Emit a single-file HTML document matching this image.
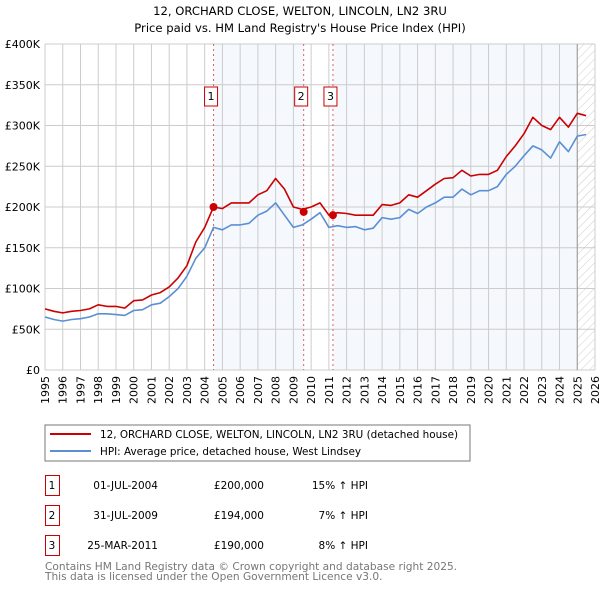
<!DOCTYPE html>
<html><head><meta charset="utf-8">
<style>
body{margin:0;background:#fff;font-family:"DejaVu Sans","Liberation Sans",sans-serif;}
#wrap{position:relative;width:600px;height:590px;overflow:hidden;}
svg text{font-family:"DejaVu Sans","Liberation Sans",sans-serif;}
</style></head><body>
<div id="wrap">
<svg id="chart" width="600" height="590">
<defs>
<pattern id="hatch" width="6" height="6" patternUnits="userSpaceOnUse" patternTransform="rotate(45)">
<line x1="0" y1="0" x2="0" y2="6" stroke="#ccc" stroke-width="1"/>
</pattern>
</defs>
<text x="300" y="15" text-anchor="middle" font-size="11.6">12, ORCHARD CLOSE, WELTON, LINCOLN, LN2 3RU</text>
<text x="300" y="32" text-anchor="middle" font-size="11.6">Price paid vs. HM Land Registry's House Price Index (HPI)</text>
<g id="plot"></g>
<rect x="45" y="425" width="425" height="36" fill="none" stroke="#777"/>
<line x1="50" y1="434" x2="91" y2="434" stroke="#cc0000" stroke-width="2"/>
<text x="100" y="438" font-size="10.4">12, ORCHARD CLOSE, WELTON, LINCOLN, LN2 3RU (detached house)</text>
<line x1="50" y1="451" x2="91" y2="451" stroke="#5b8fd4" stroke-width="2"/>
<text x="100" y="455" font-size="10.4">HPI: Average price, detached house, West Lindsey</text>
<g id="table" font-size="10.5"></g>
<text x="45" y="570" font-size="10.6" fill="#777">Contains HM Land Registry data © Crown copyright and database right 2025.</text>
<text x="45" y="580" font-size="10.6" fill="#777">This data is licensed under the Open Government Licence v3.0.</text>
</svg>
</div>
<script>
const years = [1995,1996,1997,1998,1999,2000,2001,2002,2003,2004,2005,2006,2007,2008,2009,2010,2011,2012,2013,2014,2015,2016,2017,2018,2019,2020,2021,2022,2023,2024,2025,2026];
const yTicks = [0,50,100,150,200,250,300,350,400];
const yTickLabels = ["£0","£50K","£100K","£150K","£200K","£250K","£300K","£350K","£400K"];
const seriesStart = 1995;
const seriesStep = 0.5;
const hpiValues = [65,62,60,62,63,65,69,69,68,67,73,74,80,82,90,100,115,137,150,175,172,178,178,180,190,195,205,190,175,178,185,193,175,177,175,176,172,174,187,185,187,197,192,200,205,212,212,222,215,220,220,225,240,250,263,275,270,260,280,268,287,289];
const propValues = [75,72,70,72,73,75,80,78,78,76,85,86,92,95,102,113,128,157,175,200,198,205,205,205,215,220,235,222,200,197,200,205,190,193,192,190,190,190,203,202,205,215,212,220,228,235,236,245,238,240,240,245,262,275,290,310,300,295,310,298,315,312];
const saleDates = [2004.5,2009.58,2011.23];
const saleValues = [200,194,190];
const saleLabels = ["1","2","3"];
const saleDateText = ["01-JUL-2004","31-JUL-2009","25-MAR-2011"];
const salePriceText = ["£200,000","£194,000","£190,000"];
const saleHpiText = ["15% ↑ HPI","7% ↑ HPI","8% ↑ HPI"];

const X0=45,X1=595,Y0=370,Y1=44;
const xs=v=>X0+(v-1995)/(2026-1995)*(X1-X0);
const ys=v=>Y0-v/400*(Y0-Y1);
const NS="http://www.w3.org/2000/svg";
const plot=document.getElementById('plot');
function mk(tag,attrs,parent){const e=document.createElementNS(NS,tag);for(const k in attrs)e.setAttribute(k,attrs[k]);(parent||plot).appendChild(e);return e;}

let r=mk('rect',{x:xs(saleDates[0]),y:Y1,width:xs(saleDates[1])-xs(saleDates[0]),height:Y0-Y1,fill:'#eef3fc',opacity:0.6});


r=mk('rect',{x:xs(saleDates[2]),y:Y1,width:xs(2025)-xs(saleDates[2]),height:Y0-Y1,fill:'#eef3fc',opacity:0.6});


r=mk('rect',{x:xs(2025),y:Y1,width:X1-xs(2025),height:Y0-Y1,fill:'url(#hatch)'});



years.forEach(y=>{
  const l=mk('line',{x1:xs(y),x2:xs(y),y1:Y1,y2:Y0,stroke:'#cccccc'});
  
  
  const t=mk('text',{x:0,y:0,'font-size':11,'text-anchor':'end',transform:`translate(${xs(y)+4},${Y0+6}) rotate(-90)`});
  t.textContent=y;
  
  
});
yTicks.forEach((v,i)=>{
  const l=mk('line',{x1:X0,x2:X1,y1:ys(v),y2:ys(v),stroke:'#cccccc'});
  
  
  const t=mk('text',{x:40,y:ys(v)+4,'font-size':11,'text-anchor':'end'});
  t.textContent=yTickLabels[i];
  
  
});
let bl=mk('line',{x1:xs(2025),x2:xs(2025),y1:Y1,y2:Y0,stroke:'#999'});



saleDates.forEach((d,i)=>{
  const l=mk('line',{x1:xs(d),x2:xs(d),y1:Y1,y2:Y0,stroke:'#e06060','stroke-dasharray':'2,3'});
  
  
  const b=mk('rect',{x:xs(d)-9,y:87,width:13,height:19,fill:'#fff',stroke:'#cc0000'});
  
  
  const t=mk('text',{x:xs(d)-2.5,y:100,'font-size':11,'text-anchor':'middle'});
  t.textContent=saleLabels[i];
  
  
});

function path(vals,color,name){
  const d=vals.map((v,i)=>(i?'L':'M')+xs(seriesStart+i*seriesStep).toFixed(1)+','+ys(v).toFixed(1)).join('');
  const p=mk('path',{d:d,fill:'none',stroke:color,'stroke-width':1.6,'stroke-linejoin':'round'});
  
  
}
path(hpiValues,'#5b8fd4','hpi-line');
path(propValues,'#cc0000','property-price-line');
saleDates.forEach((d,i)=>{
  const c=mk('circle',{cx:xs(d),cy:ys(saleValues[i]),r:4,fill:'#cc0000'});
  
  
});

const tbl=document.getElementById('table');
saleLabels.forEach((lab,i)=>{
  const y=475+i*30;
  const b=mk('rect',{x:45.5,y:y+0.5,width:14,height:20,fill:'none',stroke:'#cc0000'},tbl);
  
  
  const cells=[[52,lab,'middle'],[158,saleDateText[i],'end'],[264,salePriceText[i],'end'],[368,saleHpiText[i],'end']];
  cells.forEach((c,j)=>{
    const t=mk('text',{x:c[0],y:y+14,'text-anchor':c[2]},tbl);
    t.textContent=c[1];
    
    
  });
});
</script>
</body></html>
